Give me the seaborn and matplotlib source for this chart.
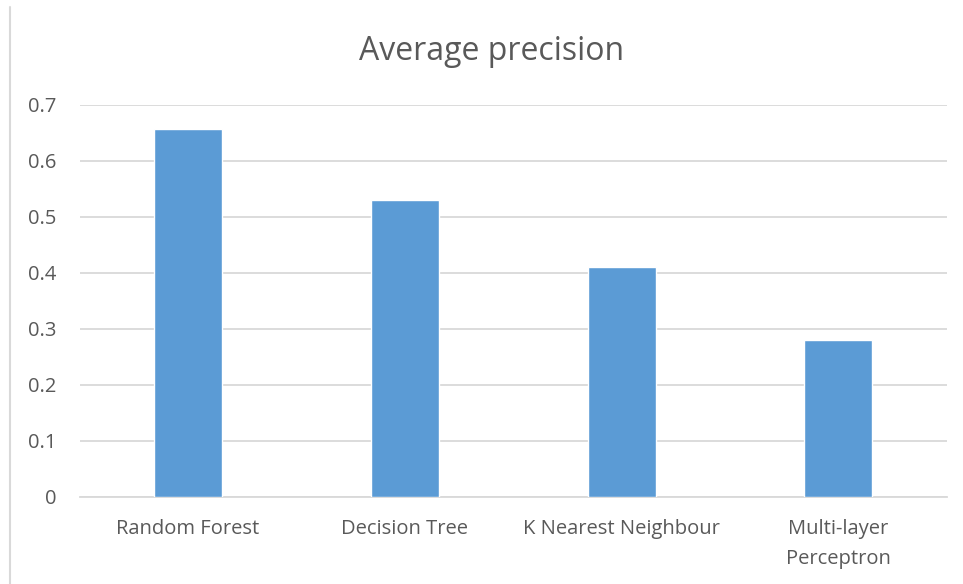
import matplotlib
matplotlib.use("Agg")
import matplotlib.pyplot as plt
from matplotlib.lines import Line2D
import seaborn as sns
import pandas as pd

# Data
models = ["Random Forest", "Decision Tree", "K Nearest Neighbour", "Multi-layer\nPerceptron"]
avg_precision = [0.656, 0.529, 0.410, 0.280]
y_ticks = [0, 0.1, 0.2, 0.3, 0.4, 0.5, 0.6, 0.7]
y_tick_labels = ["0", "0.1", "0.2", "0.3", "0.4", "0.5", "0.6", "0.7"]
title = "Average precision"

BAR = "#5B9BD5"
TEXT = "#595959"
GRID = "#D9D9D9"

sns.set_theme(style="white")
plt.rcParams["font.family"] = ["Open Sans", "DejaVu Sans"]

df = pd.DataFrame({"model": models, "precision": avg_precision})

fig = plt.figure(figsize=(9.63, 5.84), dpi=100)
ax = fig.add_axes([79.7 / 963, 1 - 496.7 / 584, (946.7 - 79.7) / 963, (496.7 - 104.7) / 584])

sns.barplot(data=df, x="model", y="precision", color=BAR, saturation=1,
            width=0.314, ax=ax, zorder=3)

ax.set_ylim(0, 0.7)
ax.set_xlim(-0.5, len(models) - 0.5)
ax.set_yticks(y_ticks)
ax.set_yticklabels(y_tick_labels)
ax.set_xlabel("")
ax.set_ylabel("")

ax.yaxis.grid(True, color=GRID, linewidth=1.3, zorder=0)
ax.xaxis.grid(False)
for side in ["left", "right", "top"]:
    ax.spines[side].set_visible(False)
ax.spines["bottom"].set_color(GRID)
ax.spines["bottom"].set_linewidth(1.3)

ax.tick_params(axis="y", length=0, pad=17, labelsize=14.5, labelcolor=TEXT)
ax.tick_params(axis="x", length=0, pad=16, labelsize=14.5, labelcolor=TEXT)
for lbl in ax.get_xticklabels():
    lbl.set_linespacing(1.65)

fig.text(492 / 963, 1 - 51 / 584, title, ha="center", va="center",
         fontsize=23, color=TEXT)

# Thin frame line along the left edge of the chart area
fig.add_artist(Line2D([9.5 / 963, 9.5 / 963], [1 - 7 / 584, 0],
                      transform=fig.transFigure, color=GRID, linewidth=1.5))

fig.savefig("out.png", dpi=100, facecolor="white")
